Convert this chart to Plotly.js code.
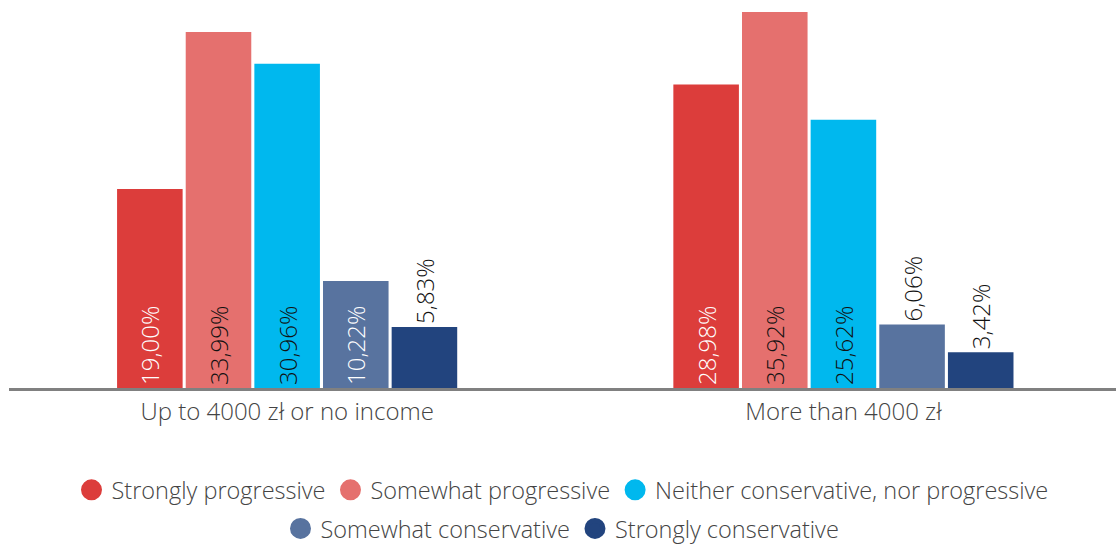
<!DOCTYPE html>
<html>
<head>
<meta charset="utf-8">
<script src="https://cdn.plot.ly/plotly-3.0.1.min.js"></script>
<style>html,body{margin:0;padding:0;background:#fff;}#chart{width:1116px;height:544px;}</style>
</head>
<body>
<div id="chart"></div>
<script>
const categories = ["Up to 4000 zł or no income", "More than 4000 zł"];
const seriesNames = ["Strongly progressive", "Somewhat progressive", "Neither conservative, nor progressive", "Somewhat conservative", "Strongly conservative"];
const stronglyProgressive = [19.00, 28.98];
const somewhatProgressive = [33.99, 35.92];
const neitherConsNorProg = [30.96, 25.62];
const somewhatConservative = [10.22, 6.06];
const stronglyConservative = [5.83, 3.42];

const seriesValues = [stronglyProgressive, somewhatProgressive, neitherConsNorProg, somewhatConservative, stronglyConservative];
const colors = ["#dc3d3b", "#e5706e", "#00b8ee", "#58739f", "#22447e"];
const insideTextColors = ["#ffffff", "#111111", "#111111", "#ffffff", "#ffffff"];
const FONT = "Open Sans, sans-serif";
const LABEL_MIN = 7; // labels of shorter bars go above the bar

const fmt = v => v.toFixed(2).replace('.', ',') + '%';

const traces = [];
seriesValues.forEach((vals, i) => {
  traces.push({
    type: 'bar',
    x: categories,
    y: vals,
    name: seriesNames[i],
    marker: {color: colors[i]},
    text: vals.map(fmt),
    textposition: vals.map(v => v < LABEL_MIN ? 'outside' : 'inside'),
    insidetextanchor: 'start',
    textangle: -90,
    constraintext: 'none',
    insidetextfont: {color: insideTextColors[i], size: 24, family: FONT, weight: 300},
    outsidetextfont: {color: '#111111', size: 24, family: FONT, weight: 300},
    cliponaxis: false,
    showlegend: false,
    hoverinfo: 'none'
  });
});
// legend entries with circle markers
seriesNames.forEach((n, i) => {
  traces.push({
    type: 'scatter',
    mode: 'markers',
    x: [null], y: [null],
    name: n,
    marker: {color: colors[i], size: 16, symbol: 'circle', line: {color: colors[i], width: 5}},
    legend: i < 3 ? 'legend' : 'legend2',
    showlegend: true,
    hoverinfo: 'none'
  });
});

const legendCommon = {
  orientation: 'h',
  xanchor: 'center',
  x: 0.5,
  yanchor: 'middle',
  font: {family: FONT, size: 23.5, color: '#444444', weight: 300},
  bgcolor: 'rgba(0,0,0,0)',
  itemclick: false,
  itemdoubleclick: false
};

const layout = {
  width: 1116,
  height: 544,
  margin: {l: 9, r: 0, t: 10, b: 156, autoexpand: false},
  paper_bgcolor: '#ffffff',
  plot_bgcolor: '#ffffff',
  barmode: 'group',
  bargap: 0.383,
  bargroupgap: 0.045,
  font: {family: FONT, size: 24, color: '#444444', weight: 300},
  xaxis: {
    type: 'category',
    showline: true,
    linecolor: '#808080',
    linewidth: 3,
    ticks: '',
    showgrid: false,
    zeroline: false,
    tickfont: {family: FONT, size: 24, color: '#444444', weight: 300},
    range: [-0.5, 1.49]
  },
  yaxis: {
    range: [0, 36.1],
    showgrid: false,
    zeroline: false,
    showticklabels: false,
    showline: false,
    ticks: ''
  },
  legend: Object.assign({}, legendCommon, {y: -0.27}),
  legend2: Object.assign({}, legendCommon, {y: -0.372}),
  showlegend: true
};

Plotly.newPlot('chart', traces, layout, {displayModeBar: false, staticPlot: true});
</script>
</body>
</html>
